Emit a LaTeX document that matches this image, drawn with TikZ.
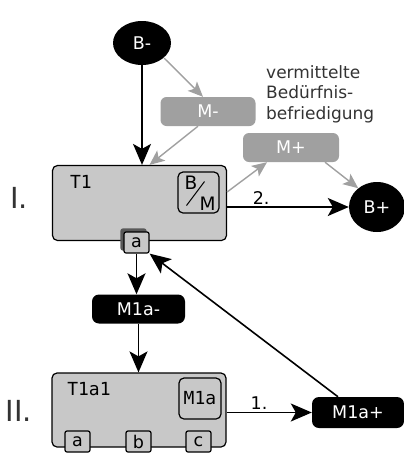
\documentclass[tikz,border=0pt]{standalone}
\usepackage{fontspec}
\setmainfont{DejaVu Sans}
\setmonofont{DejaVu Sans Mono}
\usetikzlibrary{arrows.meta,shapes.geometric,calc}
\definecolor{boxgray}{HTML}{C8C8C8}
\definecolor{midgray}{HTML}{A0A0A0}
\definecolor{textgray}{HTML}{333333}
\begin{document}
\begin{tikzpicture}[x=1pt,y=-1pt,
  lbl/.style={font=\fontsize{17.5}{20}\selectfont},
  blackell/.style={ellipse,fill=black,text=white,inner sep=0pt,lbl},
  graybox/.style={rounded corners=6pt,fill=midgray,text=white,inner sep=0pt,minimum width=95pt,minimum height=29pt,lbl},
  blackbox/.style={rounded corners=7pt,fill=black,text=white,inner sep=0pt,minimum height=29pt,lbl},
  bigbox/.style={draw,line width=1.2pt,fill=boxgray,rounded corners=5pt,inner sep=0pt,minimum width=174pt,minimum height=75pt},
  inbox/.style={draw,line width=1.2pt,fill=boxgray,rounded corners=5pt,inner sep=0pt,minimum width=41pt,minimum height=41pt},
  portbox/.style={draw,line width=1.2pt,fill=boxgray,rounded corners=2pt,inner sep=0pt,minimum width=25pt,minimum height=21pt,lbl},
  monolbl/.style={font=\ttfamily\fontsize{18}{20}\selectfont},
  romlbl/.style={font=\fontsize{29}{32}\selectfont,text=textgray},
  barrow/.style={line width=1.6pt,-{Stealth[length=21pt,width=18pt,inset=5pt]}},
  garrow/.style={line width=1.4pt,midgray,-{Stealth[length=15pt,width=13pt,inset=3.5pt]}}
]
\useasboundingbox (0,0) rectangle (404,453);

% nodes
\node[blackell,minimum width=58pt,minimum height=44pt] (Bm) at (142,43) {B-};
\node[graybox] (Mm) at (208,111.5) {M-};
\node[graybox,minimum width=96pt] (Mp) at (291,147.5) {M+};
\node[anchor=north west,align=left,text=textgray,font=\fontsize{17}{20.5}\selectfont,inner sep=0pt] (txt) at (266,65) {vermittelte\\Bedürfnis-\\befriedigung};

\node[bigbox] (T1) at (139.5,203) {};
\node[monolbl] (T1l) at (81,182) {T1};
\node[inbox] (BM) at (198.5,192.5) {};
\node[font=\fontsize{18.5}{20}\selectfont,inner sep=0pt] (Bl) at (191,183) {B};
\node[font=\fontsize{18.5}{20}\selectfont,inner sep=0pt] (Ml) at (207.5,203.5) {M};
\draw[line width=1pt] ($(BM.center)+(-12,13)$) coordinate (d1) -- ($(BM.center)+(6,-11)$) coordinate (d2);
\node[romlbl] (I) at (19,198) {I.};

\node[blackell,minimum width=56pt,minimum height=50pt] (Bp) at (377,207) {B+};

\node[portbox,fill=black!65,draw=black!65] (ash) at (133.5,239.5) {};
\node[portbox] (a) at (136.5,242.5) {a};

\node[blackbox,minimum width=93pt] (M1am) at (138.5,309) {M1a-};

\node[bigbox,minimum height=74pt] (T1a1) at (139,410) {};
\node[monolbl] (T1a1l) at (89,389) {T1a1};
\node[inbox,monolbl,minimum width=42pt] (M1ab) at (200,398.5) {M1a};
\node[romlbl] (II) at (19,411) {II.};
\node[portbox,minimum height=21pt] (pa) at (77.5,441.5) {a};
\node[portbox,minimum height=21pt] (pb) at (138.5,441.5) {b};
\node[portbox,minimum height=21pt] (pc) at (198.5,441.5) {c};

\node[blackbox,minimum width=92pt,minimum height=31pt] (M1ap) at (358,412.5) {M1a+};

% connectors
\draw[barrow] (Bm.south) -- (Bm.south |- T1.north);
\draw[garrow] ($(Bm.center)+(22,15)$) -- ($(Mm.north)+(-5,0)$);
\draw[garrow] ($(Mm.south)+(-10,0)$) -- ($(T1.north)+(10,0)$);
\draw[garrow] ($(T1.east)+(0,-11)$) -- ($(Mp.south)+(-24,0)$);
\draw[garrow] ($(Mp.south)+(34,0)$) -- (Bp.135);
\draw[barrow] (T1.east |- Bp) -- node[lbl,above,pos=0.28,inner sep=2pt] (l2) {2.} (Bp.west);

\draw[barrow] (a.south) -- (a.south |- M1am.north);
\draw[barrow] (M1am.south) -- (M1am.south |- T1a1.north);
\draw[barrow] (T1a1.east |- M1ap) -- node[lbl,above,pos=0.38,inner sep=2pt] (l1) {1.} (M1ap.west);
\draw[barrow] ($(M1ap.north)+(-20,0)$) -- (a.south east);
\end{tikzpicture}
\end{document}
